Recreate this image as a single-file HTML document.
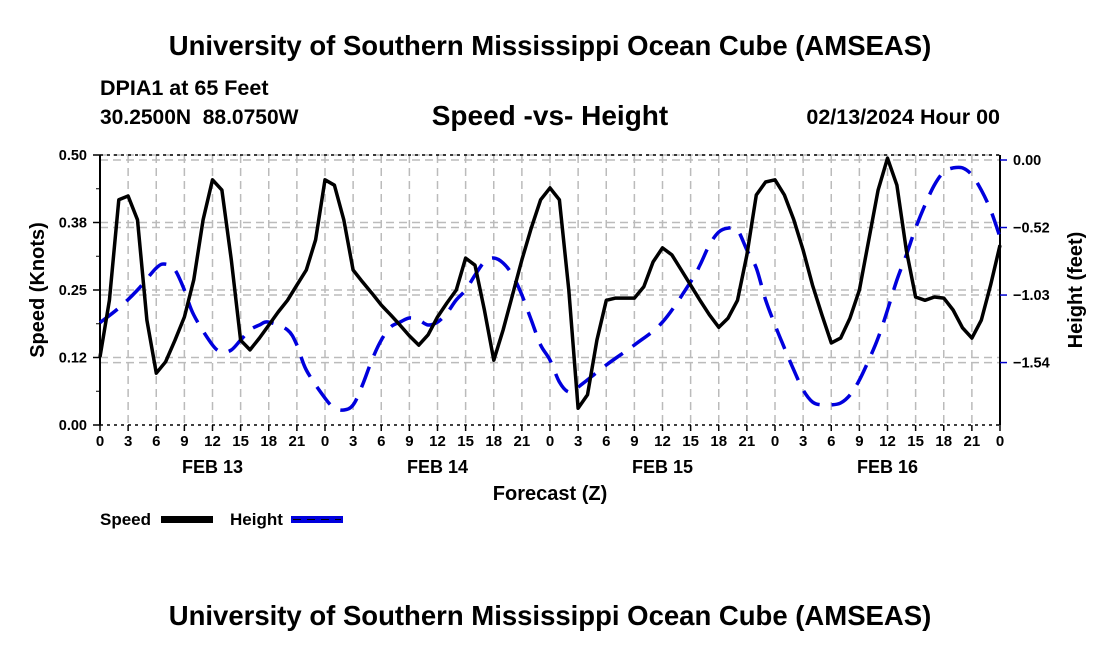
<!DOCTYPE html>
<html><head><meta charset="utf-8"><style>
body{margin:0;background:#fff;font-family:"Liberation Sans",sans-serif}
svg text{font-family:"Liberation Sans",sans-serif;font-weight:bold;fill:#000;white-space:pre}
</style></head><body>
<svg id="chart" width="1100" height="650" viewBox="0 0 1100 650" xmlns="http://www.w3.org/2000/svg">
<rect width="1100" height="650" fill="#fff"/>
<text x="550" y="55" font-size="27.5" text-anchor="middle">University of Southern Mississippi Ocean Cube (AMSEAS)</text>
<text x="100" y="95" font-size="21.5">DPIA1 at 65 Feet</text>
<text x="100" y="124" font-size="21" xml:space="preserve">30.2500N  88.0750W</text>
<text x="550" y="125" font-size="28" text-anchor="middle">Speed -vs- Height</text>
<text x="1000" y="124" font-size="21.5" text-anchor="end">02/13/2024 Hour 00</text>
<g id="grid"></g>
<g id="axes"></g>
<g id="series"></g>
<text x="550" y="500" font-size="20" text-anchor="middle">Forecast (Z)</text>
<text transform="translate(44,290) rotate(-90)" font-size="20" text-anchor="middle">Speed (Knots)</text>
<text transform="translate(1082,290) rotate(-90)" font-size="20" text-anchor="middle">Height (feet)</text>
<g><text x="100" y="525" font-size="17">Speed</text><rect x="161" y="516" width="52" height="7" fill="#000"/></g>
<g><text x="230" y="525" font-size="17">Height</text><rect x="291" y="516" width="52" height="7" fill="#0000dd"/><line x1="293" y1="519.5" x2="341" y2="519.5" stroke="#000" stroke-width="1" stroke-dasharray="8,6"/></g>
<text x="550" y="625" font-size="27.5" text-anchor="middle">University of Southern Mississippi Ocean Cube (AMSEAS)</text>
</svg>
<script>
const hours=[0,1,2,3,4,5,6,7,8,9,10,11,12,13,14,15,16,17,18,19,20,21,22,23,24,25,26,27,28,29,30,31,32,33,34,35,36,37,38,39,40,41,42,43,44,45,46,47,48,49,50,51,52,53,54,55,56,57,58,59,60,61,62,63,64,65,66,67,68,69,70,71,72,73,74,75,76,77,78,79,80,81,82,83,84,85,86,87,88,89,90,91,92,93,94,95,96];
const speed=[0.126,0.231,0.417,0.424,0.380,0.194,0.096,0.117,0.157,0.200,0.269,0.380,0.454,0.435,0.306,0.157,0.139,0.161,0.185,0.209,0.231,0.259,0.287,0.343,0.454,0.444,0.380,0.287,0.265,0.244,0.222,0.204,0.185,0.165,0.148,0.167,0.200,0.226,0.250,0.309,0.296,0.213,0.120,0.176,0.241,0.306,0.365,0.417,0.439,0.417,0.250,0.031,0.056,0.157,0.231,0.235,0.235,0.235,0.256,0.302,0.328,0.315,0.287,0.259,0.231,0.204,0.181,0.198,0.231,0.315,0.426,0.450,0.454,0.426,0.380,0.324,0.259,0.204,0.152,0.161,0.198,0.250,0.343,0.435,0.494,0.444,0.324,0.237,0.231,0.237,0.235,0.213,0.180,0.161,0.194,0.259,0.333];
const heightHours=[0,2,4,6,7,8,9,10,12,13,14,15,16,17,18,20,21,22,24,25,26,27,28,29,30,31,32,33,34,35,36,37,38,39,40,41,42,43,44,45,46,47,48,49,50,51,54,57,60,63,64,65,66,67,68,69,70,71,72,73,74,75,76,77,78,79,80,81,82,83,84,85,86,87,88,89,90,91,92,93,94,95,96];
const heightFt=[-1.228,-1.118,-0.982,-0.816,-0.786,-0.831,-0.982,-1.171,-1.397,-1.450,-1.435,-1.360,-1.284,-1.246,-1.224,-1.284,-1.397,-1.586,-1.798,-1.873,-1.888,-1.850,-1.699,-1.511,-1.360,-1.261,-1.224,-1.193,-1.209,-1.246,-1.224,-1.156,-1.057,-0.982,-0.869,-0.770,-0.740,-0.778,-0.869,-1.020,-1.209,-1.397,-1.511,-1.677,-1.752,-1.715,-1.548,-1.397,-1.224,-0.921,-0.793,-0.642,-0.544,-0.514,-0.529,-0.680,-0.816,-1.057,-1.246,-1.420,-1.586,-1.737,-1.828,-1.850,-1.850,-1.835,-1.775,-1.662,-1.511,-1.344,-1.133,-0.906,-0.718,-0.514,-0.340,-0.189,-0.091,-0.060,-0.060,-0.113,-0.227,-0.378,-0.582];
const leftTicks=["0.00","0.12","0.25","0.38","0.50"];
const leftVals=[0,0.125,0.25,0.375,0.5];
const rightTicks=["0.00","-0.52","-1.03","-1.54"];
const rightVals=[0,-0.51,-1.02,-1.53];
const dayLabels=["FEB 13","FEB 14","FEB 15","FEB 16"];

const X0=100,X1=1000,Y0=425,Y1=155;
const xs=h=>X0+h*(X1-X0)/96;
const ys=v=>Y0-v*(Y0-Y1)/0.5;
const yh=v=>160-v*132.4;
const NS="http://www.w3.org/2000/svg";
function mk(tag,attrs,parent){const e=document.createElementNS(NS,tag);for(const k in attrs)e.setAttribute(k,attrs[k]);parent.appendChild(e);return e;}
function smooth(pts){let d='M'+pts[0][0].toFixed(1)+','+pts[0][1].toFixed(1);for(let i=0;i<pts.length-1;i++){const p0=pts[Math.max(0,i-1)],p1=pts[i],p2=pts[i+1],p3=pts[Math.min(pts.length-1,i+2)];const c1=[p1[0]+(p2[0]-p0[0])/6,p1[1]+(p2[1]-p0[1])/6],c2=[p2[0]-(p3[0]-p1[0])/6,p2[1]-(p3[1]-p1[1])/6];d+='C'+c1[0].toFixed(1)+','+c1[1].toFixed(1)+' '+c2[0].toFixed(1)+','+c2[1].toFixed(1)+' '+p2[0].toFixed(1)+','+p2[1].toFixed(1);}return d;}
const grid=document.getElementById('grid'),axes=document.getElementById('axes'),ser=document.getElementById('series');
for(let h=3;h<96;h+=3){const l=mk('line',{x1:xs(h),x2:xs(h),y1:Y1,y2:Y0,stroke:'#bbb','stroke-width':1.5,'stroke-dasharray':'8,5'},grid);

}
leftVals.forEach((v,i)=>{if(i==0)return;const l=mk('line',{x1:X0,x2:X1,y1:ys(v),y2:ys(v),stroke:'#bbb','stroke-width':1.5,'stroke-dasharray':'8,5'},grid);

});
rightVals.forEach(v=>{const l=mk('line',{x1:X0,x2:X1,y1:yh(v),y2:yh(v),stroke:'#bbb','stroke-width':1.5,'stroke-dasharray':'8,5'},grid);

});
mk('line',{x1:X0,x2:X0,y1:Y1,y2:Y0,stroke:'#000','stroke-width':2},axes);
mk('line',{x1:X1,x2:X1,y1:Y1,y2:Y0,stroke:'#000','stroke-width':2},axes);
mk('line',{x1:X0,x2:X1,y1:Y1,y2:Y1,stroke:'#000','stroke-width':1.5,'stroke-dasharray':'3,4'},axes);
mk('line',{x1:X0,x2:X1,y1:Y0,y2:Y0,stroke:'#000','stroke-width':1.5,'stroke-dasharray':'3,4'},axes);
leftVals.forEach((v,i)=>{mk('line',{x1:X0-7,x2:X0,y1:ys(v),y2:ys(v),stroke:'#000','stroke-width':1.5},axes);
const t=mk('text',{x:X0-13,y:ys(v)+5,'font-size':14.5,'text-anchor':'end'},axes);t.textContent=leftTicks[i];

});
for(let i=0;i<4;i++){const v=(leftVals[i]+leftVals[i+1])/2;mk('line',{x1:X0-4,x2:X0,y1:ys(v),y2:ys(v),stroke:'#000'},axes);}
rightVals.forEach((v,i)=>{mk('line',{x1:X1,x2:X1+7,y1:yh(v),y2:yh(v),stroke:'#0000cc','stroke-width':1.5},axes);
const t=mk('text',{x:X1+13,y:yh(v)+5,'font-size':14.5},axes);t.textContent=rightTicks[i].replace('-','\u2212');

});
for(let h=0;h<=96;h+=3){mk('line',{x1:xs(h),x2:xs(h),y1:Y0,y2:Y0+6,stroke:'#000','stroke-width':1.5},axes);
const t=mk('text',{x:xs(h),y:Y0+21,'font-size':15,'text-anchor':'middle'},axes);t.textContent=String(h%24);

}
dayLabels.forEach((d,i)=>{const t=mk('text',{x:xs(i*24+12),y:Y0+48,'font-size':18,'text-anchor':'middle'},axes);t.textContent=d;

});
const hp=mk('path',{d:smooth(heightHours.map((h,i)=>[xs(h),yh(heightFt[i])])),fill:'none',stroke:'#0000dd','stroke-width':3.5,'stroke-dasharray':'22,12','stroke-linejoin':'round'},ser);


const sp=mk('path',{d:hours.map((h,i)=>(i?'L':'M')+xs(h).toFixed(1)+','+ys(speed[i]).toFixed(1)).join(''),fill:'none',stroke:'#000','stroke-width':3.5,'stroke-linejoin':'round'},ser);


</script>
</body></html>
